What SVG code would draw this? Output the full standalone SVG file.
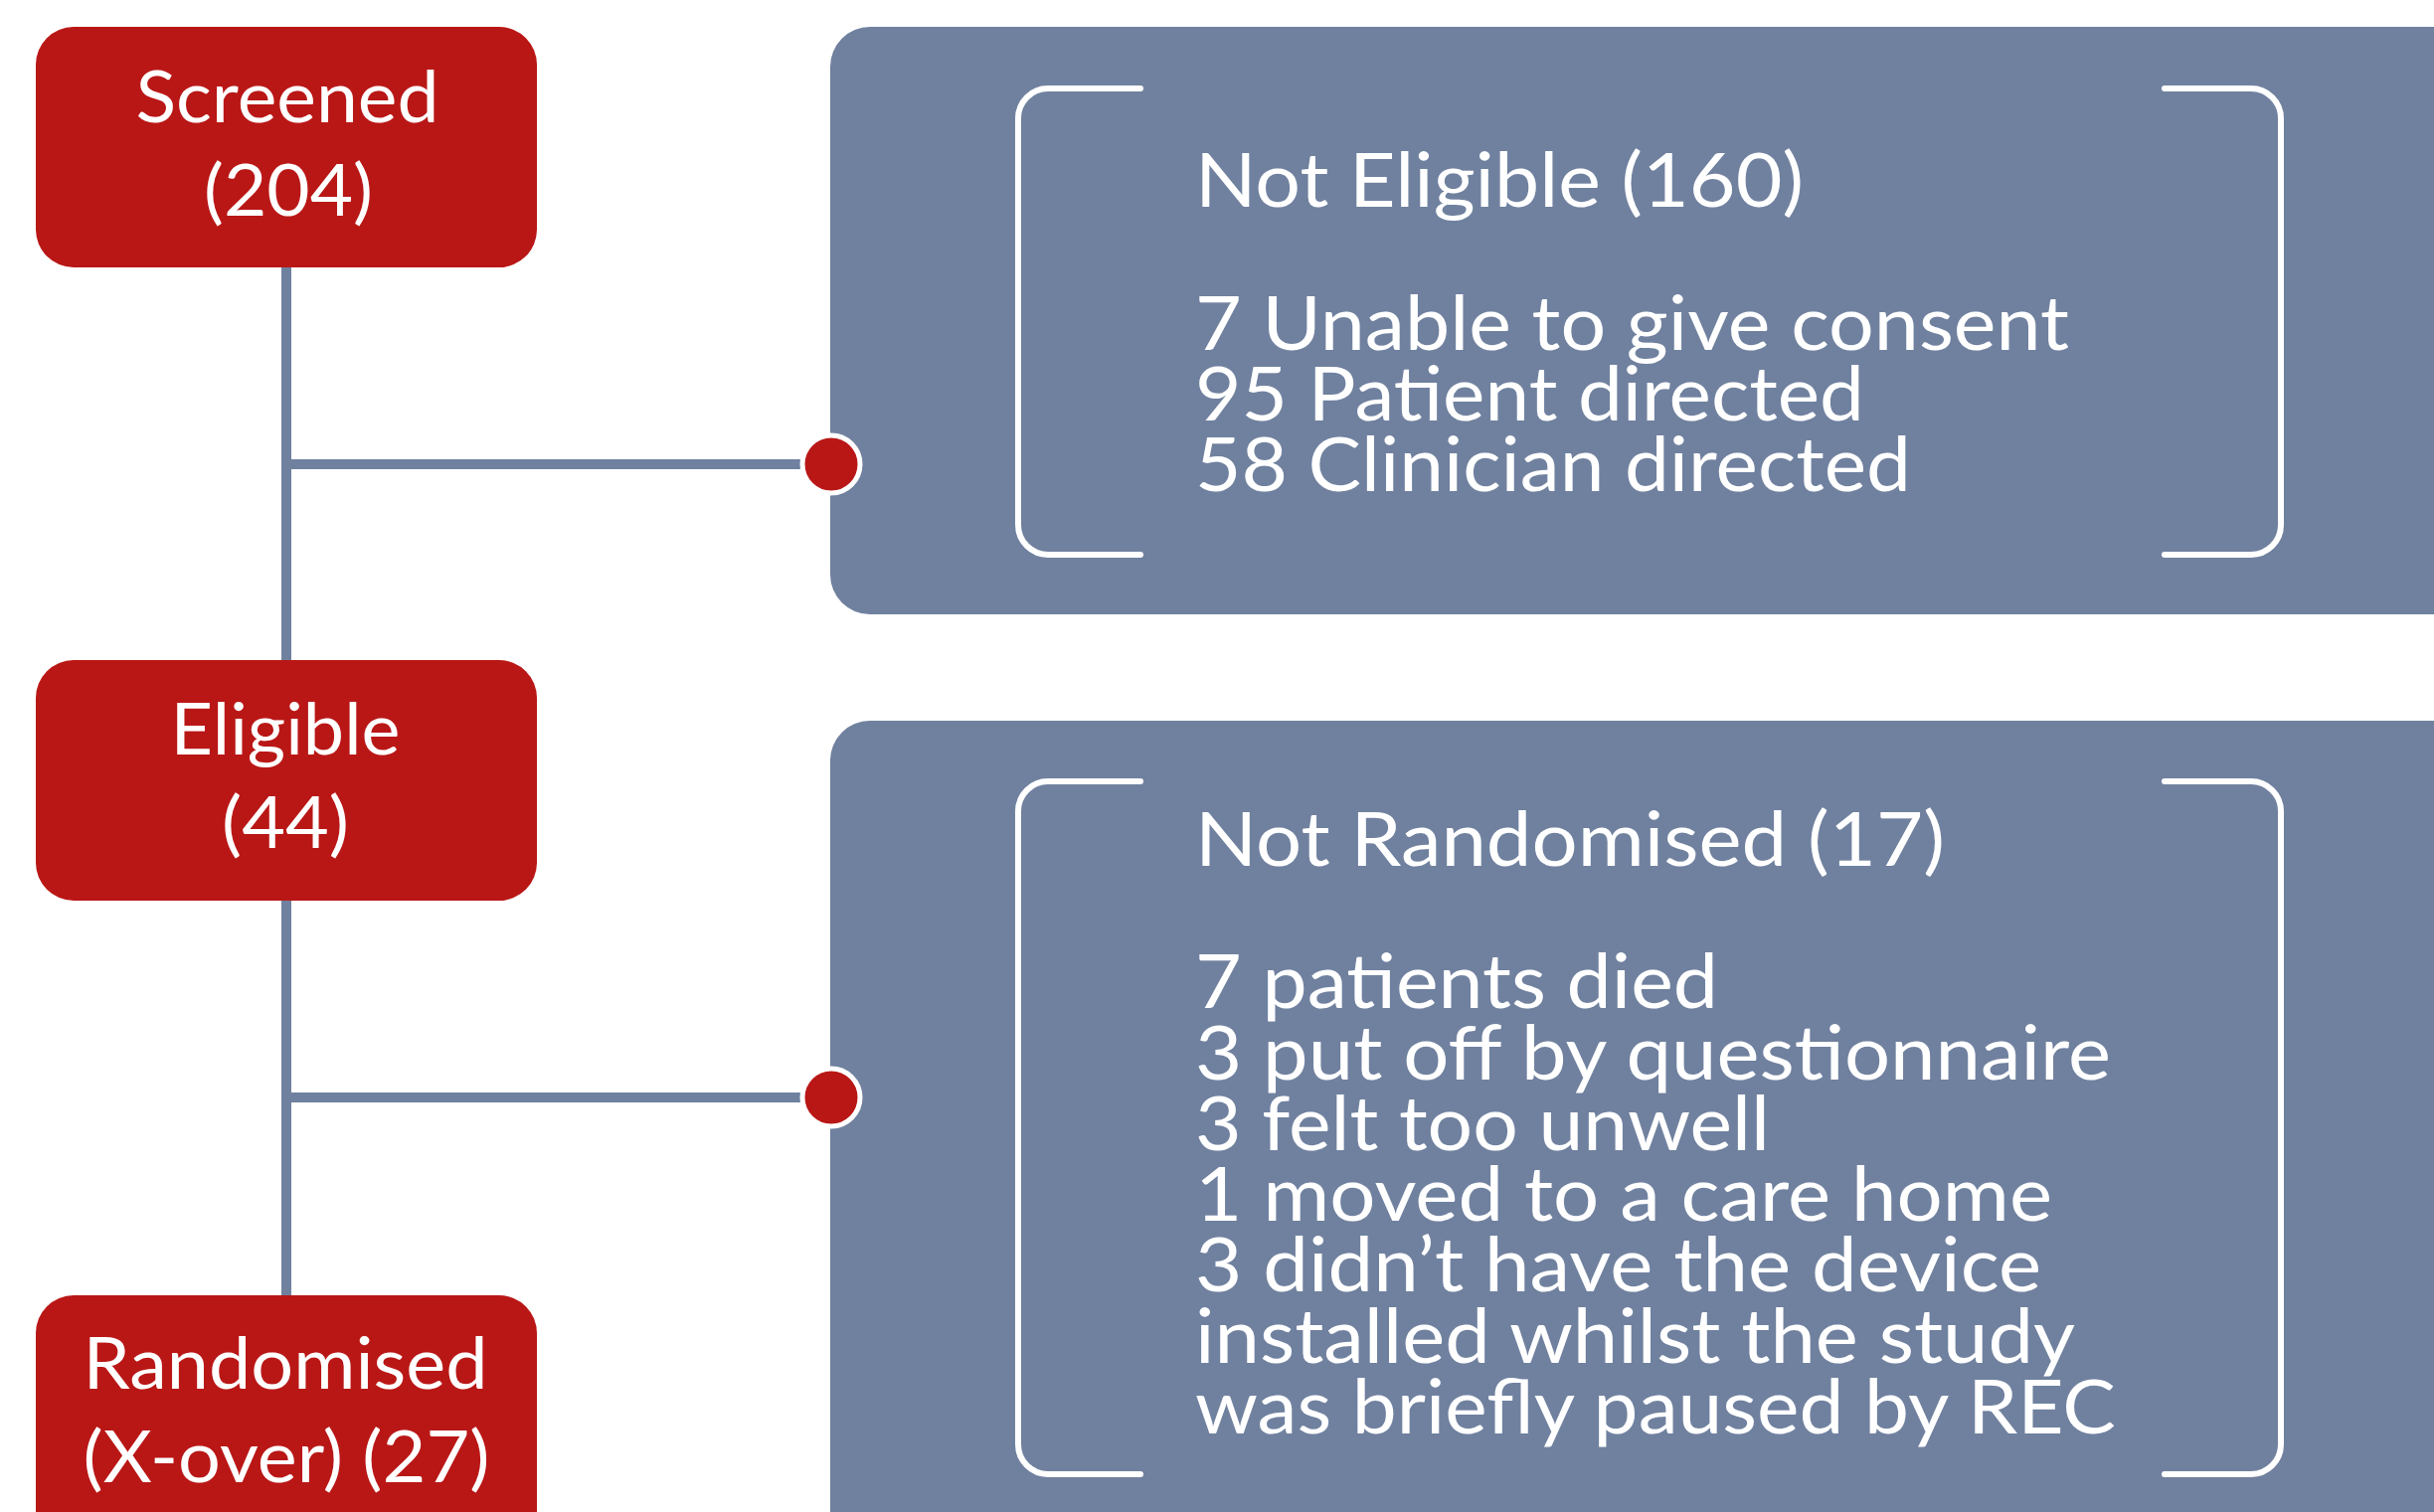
<svg xmlns="http://www.w3.org/2000/svg" width="2448" height="1521" viewBox="0 0 2448 1521">
<style>
  .red { fill: #B91716; }
  .panel { fill: #70819F; }
  .conn { stroke: #70819F; stroke-width: 10; fill: none; }
  .dot { fill: #B91716; stroke: #FFFFFF; stroke-width: 5; }
  .brk { stroke: #FFFFFF; stroke-width: 6; fill: none; stroke-linecap: round; }
  text { font-family: Lato, "Open Sans", "Liberation Sans", sans-serif; fill: #FFFFFF; }
  .lt { font-size: 71px; text-anchor: middle; }
  .rt { font-size: 76px; }
</style>
<rect width="2448" height="1521" fill="#FFFFFF"/>
<g id="connectors">
  <line class="conn" x1="288" y1="260" x2="288" y2="1310"/>
  <line class="conn" x1="288" y1="467" x2="836" y2="467"/>
  <line class="conn" x1="288" y1="1104" x2="836" y2="1104"/>
</g>
<g id="not-eligible">
  <rect class="panel" x="835" y="27" width="1700" height="591" rx="40"/>
  <path class="brk" d="M1147 89 H1054 A30 30 0 0 0 1024 119 V528 A30 30 0 0 0 1054 558 H1147"/>
  <path class="brk" d="M2177 89 H2264 A30 30 0 0 1 2294 119 V528 A30 30 0 0 1 2264 558 H2177"/>
  <text class="rt" x="1202" y="208" textLength="612" lengthAdjust="spacingAndGlyphs">Not Eligible (160)</text>
  <text class="rt" x="1202" y="352" textLength="879" lengthAdjust="spacingAndGlyphs">7 Unable to give consent</text>
  <text class="rt" x="1202" y="423" textLength="673" lengthAdjust="spacingAndGlyphs">95 Patient directed</text>
  <text class="rt" x="1202" y="494" textLength="720" lengthAdjust="spacingAndGlyphs">58 Clinician directed</text>
</g>
<g id="not-randomised">
  <rect class="panel" x="835" y="725" width="1700" height="900" rx="40"/>
  <path class="brk" d="M1147 786 H1054 A30 30 0 0 0 1024 816 V1453 A30 30 0 0 0 1054 1483 H1147"/>
  <path class="brk" d="M2177 786 H2264 A30 30 0 0 1 2294 816 V1453 A30 30 0 0 1 2264 1483 H2177"/>
  <text class="rt" x="1202" y="871" textLength="754" lengthAdjust="spacingAndGlyphs">Not Randomised (17)</text>
  <text class="rt" x="1202" y="1014" textLength="526" lengthAdjust="spacingAndGlyphs">7 patients died</text>
  <text class="rt" x="1202" y="1086" textLength="921" lengthAdjust="spacingAndGlyphs">3 put off by questionnaire</text>
  <text class="rt" x="1202" y="1157" textLength="578" lengthAdjust="spacingAndGlyphs">3 felt too unwell</text>
  <text class="rt" x="1202" y="1228" textLength="862" lengthAdjust="spacingAndGlyphs">1 moved to a care home</text>
  <text class="rt" x="1202" y="1299" textLength="851" lengthAdjust="spacingAndGlyphs">3 didn’t have the device</text>
  <text class="rt" x="1202" y="1371" textLength="885" lengthAdjust="spacingAndGlyphs">installed whilst the study</text>
  <text class="rt" x="1202" y="1442" textLength="926" lengthAdjust="spacingAndGlyphs">was briefly paused by REC</text>
</g>
<g id="dots">
  <circle class="dot" cx="836" cy="467" r="29"/>
  <circle class="dot" cx="836" cy="1104" r="29"/>
</g>
<g id="screened">
  <rect class="red" x="36" y="27" width="504" height="242" rx="38"/>
  <text class="lt" x="289" y="123" textLength="305" lengthAdjust="spacingAndGlyphs">Screened</text>
  <text class="lt" x="290" y="217" textLength="170" lengthAdjust="spacingAndGlyphs">(204)</text>
</g>
<g id="eligible">
  <rect class="red" x="36" y="664" width="504" height="242" rx="38"/>
  <text class="lt" x="287" y="759" textLength="231" lengthAdjust="spacingAndGlyphs">Eligible</text>
  <text class="lt" x="287" y="853" textLength="128" lengthAdjust="spacingAndGlyphs">(44)</text>
</g>
<g id="randomised">
  <rect class="red" x="36" y="1303" width="504" height="300" rx="38"/>
  <text class="lt" x="287" y="1397" textLength="407" lengthAdjust="spacingAndGlyphs">Randomised</text>
  <text class="lt" x="288" y="1491" textLength="409" lengthAdjust="spacingAndGlyphs">(X-over) (27)</text>
</g>
</svg>
